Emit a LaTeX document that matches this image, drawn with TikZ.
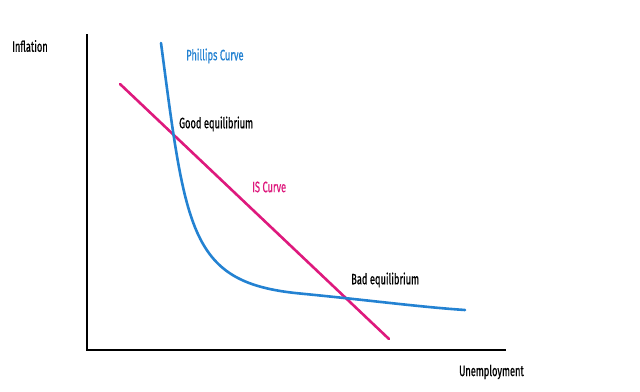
\documentclass[tikz,border=0pt]{standalone}
\usepackage{fontspec}
\newfontfamily\lab{Fira Sans}[FakeStretch=0.62,FakeBold=0.6]
\definecolor{pcblue}{RGB}{35,130,210}
\definecolor{ispink}{RGB}{222,25,125}
\begin{document}
\begin{tikzpicture}[x=1pt,y=-1pt,
  axis/.style={line width=2pt,black},
  curve/.style={line width=2.6pt,line cap=round},
  lbl/.style={anchor=west,inner sep=0pt,font=\lab\fontsize{15}{16}\selectfont}]
\useasboundingbox[fill=white] (0,0) rectangle (640,391);
\coordinate (top) at (87,34);
\coordinate (origin) at (87,350);
\coordinate (right) at (506,350);
\draw[axis] (top) -- (origin) -- (right);
\coordinate (isA) at (120,84);
\coordinate (isB) at (389,339);
\draw[curve,ispink] (isA) -- (isB);
\coordinate (pcA) at (161,43);
\coordinate (pcM) at (300,293.5);
\coordinate (pcB) at (465,310);
\draw[curve,pcblue] (pcA) .. controls (186,233) and (190,283) .. (pcM)
  .. controls (370,300.3) and (420,307) .. (pcB);
\node[lbl] (infl) at (12,46) {Inflation};
\node[lbl] (unemp) at (459,372) {Unemployment};
\node[lbl,text=pcblue] (pc) at (186,56) {Phillips Curve};
\node[lbl,text=ispink] (is) at (252,187) {IS Curve};
\node[lbl] (good) at (179,124) {Good equilibrium};
\node[lbl] (bad) at (351,280) {Bad equilibrium};
\end{tikzpicture}
\end{document}
